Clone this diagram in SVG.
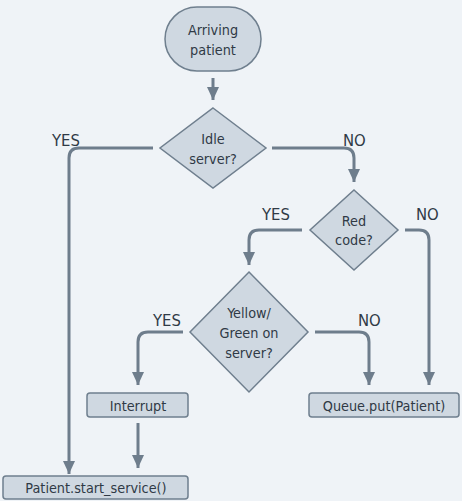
<svg xmlns="http://www.w3.org/2000/svg" width="462" height="501" viewBox="0 0 462 501">
<style>
.n{fill:#cfd8e1;stroke:#6f7f8e;stroke-width:1.5}
.t{font-family:"DejaVu Sans Condensed","DejaVu Sans",sans-serif;font-stretch:condensed;font-size:14.3px;fill:#2f3a46;text-anchor:middle;dominant-baseline:central}
.l{font-family:"DejaVu Sans Condensed","DejaVu Sans",sans-serif;font-stretch:condensed;font-size:16.5px;fill:#2f3a46;dominant-baseline:central}
.c{fill:none;stroke:#6e7d8c;stroke-width:3;marker-end:url(#a)}
</style>
<defs>
<marker id="a" markerUnits="userSpaceOnUse" markerWidth="14" markerHeight="12" viewBox="0 0 14 12" refX="13" refY="6" orient="auto">
<path d="M0,0 L13,6 L0,12 z" fill="#6e7d8c"/>
</marker>
</defs>
<rect width="462" height="501" fill="#eff3f7"/>
<g id="connectors">
<path class="c" d="M213,78 V100"/>
<path class="c" d="M153,148 H79 Q69,148 69,158 V474"/>
<path class="c" d="M272,148 H344 Q354,148 354,158 V182"/>
<path class="c" d="M302,230 H259 Q249,230 249,240 V265"/>
<path class="c" d="M405,230 H419 Q429,230 429,240 V385"/>
<path class="c" d="M183,332 H148 Q138,332 138,342 V385"/>
<path class="c" d="M315,332 H359 Q369,332 369,342 V385"/>
<path class="c" d="M138,423 V468"/>
<text class="l" x="52" y="140">YES</text>
<text class="l" x="343" y="140">NO</text>
<text class="l" x="262" y="214">YES</text>
<text class="l" x="416" y="214">NO</text>
<text class="l" x="153" y="320">YES</text>
<text class="l" x="358" y="320">NO</text>
</g>
<g id="arriving">
<rect class="n" x="165" y="7" width="96" height="64" rx="32"/>
<text class="t" x="213" y="30">Arriving</text>
<text class="t" x="213" y="50">patient</text>
</g>
<g id="idle">
<polygon class="n" points="213,108 266,148 213,188 160,148"/>
<text class="t" x="213" y="139">Idle</text>
<text class="t" x="213" y="159">server?</text>
</g>
<g id="red">
<polygon class="n" points="354,190 398,230 354,270 310,230"/>
<text class="t" x="354" y="221">Red</text>
<text class="t" x="354" y="240">code?</text>
</g>
<g id="yellow">
<polygon class="n" points="249,272 308,332 249,392 190,332"/>
<text class="t" x="249" y="313">Yellow/</text>
<text class="t" x="249" y="333">Green on</text>
<text class="t" x="249" y="353">server?</text>
</g>
<g id="interrupt">
<rect class="n" x="87" y="393" width="101" height="24" rx="3"/>
<text class="t" x="138" y="406">Interrupt</text>
</g>
<g id="queue">
<rect class="n" x="309" y="393" width="150" height="24" rx="3"/>
<text class="t" x="384" y="406">Queue.put(Patient)</text>
</g>
<g id="start">
<rect class="n" x="3" y="476" width="185" height="23" rx="3"/>
<text class="t" x="96" y="488">Patient.start_service()</text>
</g>
</svg>
